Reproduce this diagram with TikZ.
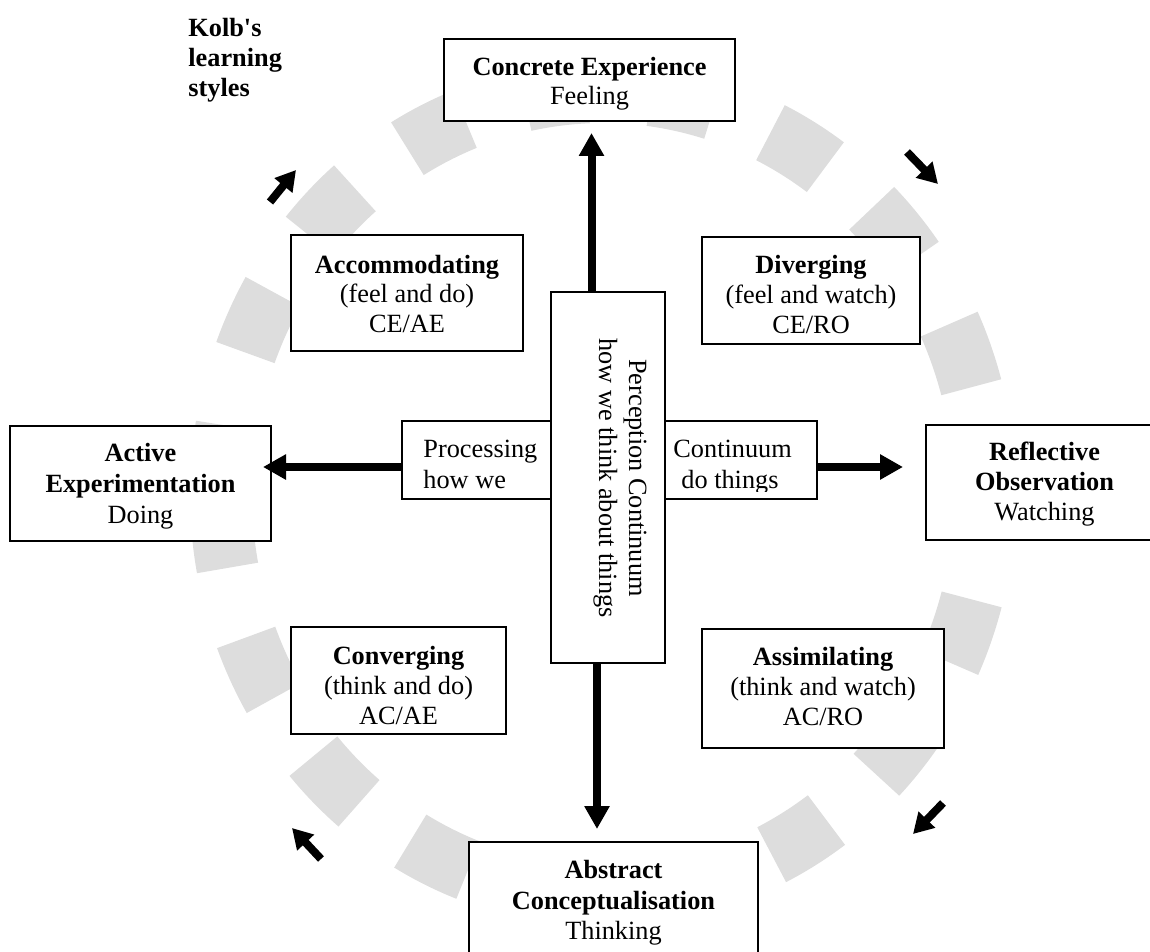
\documentclass[tikz,border=0pt]{standalone}
\usepackage{fontspec}
\setmainfont{Liberation Serif}
\usetikzlibrary{arrows.meta,fit,calc}
\definecolor{ringgray}{RGB}{221,221,221}
\tikzset{
  boxnode/.style={draw=black, line width=1pt, fill=white, inner sep=0pt},
  txt/.style={anchor=base, inner sep=0pt, font=\fontsize{13.15}{15}\selectfont},
  btxt/.style={txt, font=\fontsize{13.15}{15}\selectfont\bfseries},
  bigarrow/.style={line width=4pt, -{Triangle[length=11.5pt,width=12pt]}},
  smallarrow/.style={line width=4pt, -{Triangle[length=10pt,width=11pt]}},
  ringseg/.style={draw=ringgray, line width=31pt},
}
\begin{document}
\begin{tikzpicture}[x=0.5pt,y=-0.5pt]
\useasboundingbox (0,0) rectangle (1150,952);
\clip (0,0) rectangle (1150,952);
% dashed grey ring
\coordinate (rc) at (603,494);
\foreach \a in {0,20.2,40.5,59.2,78,97,116,135.3,154.6,175,185.8,205.7,225.5,244.5,264,283,301,320.5,340}
  \draw[ringseg] ($(rc)+({-\a+4.8}:382 and 402)$) arc[start angle={-\a+4.8}, end angle={-\a-4.8}, x radius=382, y radius=402];

% title
\node[btxt, anchor=base west] (k1) at (188,37) {Kolb\textquotesingle s};
\node[btxt, anchor=base west] (k2) at (188,67) {learning};
\node[btxt, anchor=base west] (k3) at (188,97) {styles};

% boxes
\node[boxnode, fit={(444,39) (735,121)}] (ce) {};
\node[boxnode, fit={(291,235) (523,351)}] (acc) {};
\node[boxnode, fit={(702,237) (920,344)}] (div) {};
\node[boxnode, fit={(10,426) (271,541)}] (ae) {};
\node[boxnode, fit={(926,425) (1165,540)}] (ro) {};
\node[boxnode, fit={(402,421) (551,499)}] (pr) {};
\node[boxnode, fit={(665,421) (817,499)}] (co) {};
\node[boxnode, fit={(551,292) (665,663)}] (pc) {};
\node[boxnode, fit={(291,627) (506,734)}] (cv) {};
\node[boxnode, fit={(702,629) (944,748)}] (as) {};
\node[boxnode, fit={(469,842) (758,965)}] (ac) {};

% texts
\node[btxt] (ce1) at (589.5,76) {Concrete Experience};
\node[txt]  (ce2) at (589.5,105) {Feeling};

\node[btxt] (acc1) at (407,273) {Accommodating};
\node[txt]  (acc2) at (407,302) {(feel and do)};
\node[txt]  (acc3) at (407,332) {CE/AE};

\node[btxt] (div1) at (811,273) {Diverging};
\node[txt]  (div2) at (811,303) {(feel and watch)};
\node[txt]  (div3) at (811,333) {CE/RO};

\node[btxt] (ae1) at (140.5,461) {Active};
\node[btxt] (ae2) at (140.5,492) {Experimentation};
\node[txt]  (ae3) at (140.5,523) {Doing};

\node[btxt] (ro1) at (1044.5,460) {Reflective};
\node[btxt] (ro2) at (1044.5,490) {Observation};
\node[txt]  (ro3) at (1044.5,520) {Watching};

\node[btxt] (cv1) at (398.5,664) {Converging};
\node[txt]  (cv2) at (398.5,694) {(think and do)};
\node[txt]  (cv3) at (398.5,724) {AC/AE};

\node[btxt] (as1) at (823,665) {Assimilating};
\node[txt]  (as2) at (823,695) {(think and watch)};
\node[txt]  (as3) at (823,725) {AC/RO};

\node[btxt] (ac1) at (613.5,878) {Abstract};
\node[btxt] (ac2) at (613.5,909) {Conceptualisation};
\node[txt]  (ac3) at (613.5,939) {Thinking};

\node[txt, anchor=center, rotate=-90, align=center] (pct) at (620,478)
  {Perception Continuum\\how we think about things};

\begin{scope}
\clip (402,421) rectangle (817,491);
\node[txt, anchor=base west] (pr1) at (423,457) {Processing};
\node[txt, anchor=base west] (pr2) at (423,488) {how we};
\node[txt, anchor=base west] (co1) at (673,457) {Continuum};
\node[txt, anchor=base west] (co2) at (681,488) {do things};
\end{scope}

% main arrows
\coordinate (upTip) at (591.5,133);
\coordinate (dnTip) at (597,829);
\coordinate (lfTip) at (263,467);
\coordinate (rtTip) at (903,467);
\draw[bigarrow] (pc.north -| upTip) -- (upTip);
\draw[bigarrow] (pc.south -| dnTip) -- (dnTip);
\draw[bigarrow] (pr.west |- lfTip) -- (lfTip);
\draw[bigarrow] (co.east |- rtTip) -- (rtTip);

% small cycle arrows
\coordinate (tl0) at (270,202); \coordinate (tl1) at (296,170);
\coordinate (tr0) at (907,152); \coordinate (tr1) at (938,184);
\coordinate (br0) at (943,803); \coordinate (br1) at (913,834);
\coordinate (bl0) at (321,859); \coordinate (bl1) at (292,828);
\draw[smallarrow] (tl0) -- (tl1);
\draw[smallarrow] (tr0) -- (tr1);
\draw[smallarrow] (br0) -- (br1);
\draw[smallarrow] (bl0) -- (bl1);
\end{tikzpicture}
\end{document}
